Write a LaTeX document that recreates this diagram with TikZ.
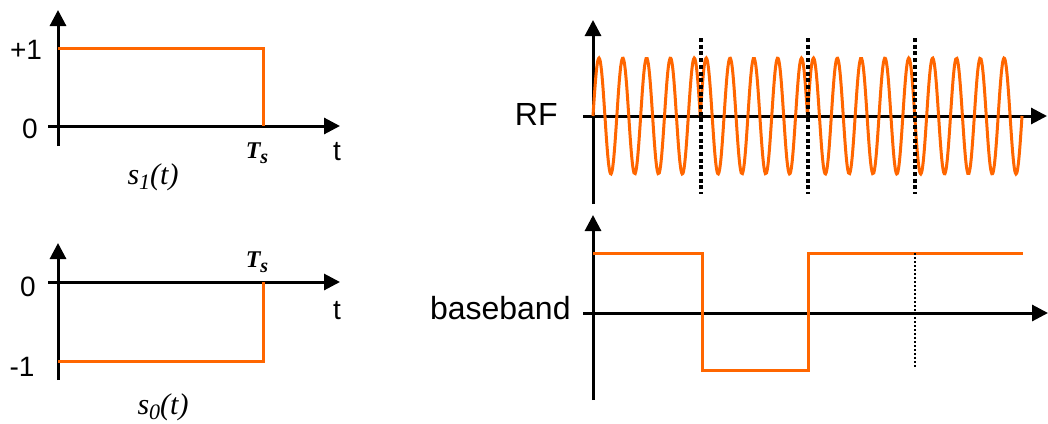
\documentclass[tikz,border=0pt]{standalone}
\usepackage{fontspec}
\setmainfont{Liberation Sans}
\newfontfamily\timesfont{Liberation Serif}
\usetikzlibrary{arrows.meta}
\definecolor{sigorange}{RGB}{255,102,0}
\newcommand{\Tsym}{{\fontsize{12}{14}\timesfont\bfseries\itshape T\raisebox{-0.45ex}{\fontsize{10}{12}\selectfont s}}}
\newcommand{\ssym}[1]{s\raisebox{-0.35ex}{\fontsize{11}{13}\selectfont #1}(t)}
\begin{document}
\begin{tikzpicture}[
    x=0.5pt,
    y=-0.5pt,
    font=\fontsize{14}{17}\selectfont,
    axis/.style={line width=1.5pt, -{Triangle[length=8pt,width=8pt]}},
    signal/.style={sigorange, line width=1.5pt},
    bitmark/.style={line width=2.2pt, dash pattern=on 2pt off 1.35pt},
    thinmark/.style={line width=1.1pt, dash pattern=on 1pt off 1pt},
    biglabel/.style={anchor=east, inner sep=0pt, font=\fontsize{16}{19}\selectfont},
    symname/.style={font=\fontsize{15}{18}\timesfont\itshape}
  ]
    \useasboundingbox (0,0) rectangle (1048,423);

    % --- s_1(t) ---
    \draw[axis] (58,146) -- (58,10);
    \draw[axis] (48,126) -- (340,126);
    \draw[signal] (58,48) -- (263,48) -- (263,126);
    \node (plusone) at (26,50) {+1};
    \node (zeroA) at (30,129) {0};
    \node (tsA) at (257,153) {\Tsym};
    \node (tA) at (337,152) {t};
    \node[symname] (sone) at (153,177) {\ssym{1}};

    % --- s_0(t) ---
    \draw[axis] (58,380) -- (58,243);
    \draw[axis] (48,282) -- (340,282);
    \draw[signal] (58,361) -- (263,361) -- (263,282);
    \node (zeroB) at (28,287) {0};
    \node (minusone) at (22,367) {-1};
    \node (tsB) at (257,262) {\Tsym};
    \node (tB) at (337,311) {t};
    \node[symname] (szero) at (163,407) {\ssym{0}};

    % --- RF (bits 1, 0, 1, 1) ---
    \draw[axis] (593,204) -- (593,20);
    \draw[axis] (583,116) -- (1047,116);
    \foreach \k/\b [evaluate=\k as \xa using 593+107.25*\k,
                    evaluate=\k as \xb using 593+107.25*(\k+1)]
      in {0/1,1/-1,2/1,3/1} {
      \draw[signal, domain=\xa:\xb, samples=90, smooth]
        plot (\x, {116-58*\b*sin(((\x-593)/23.8333)*360)});
    }
    \foreach \xd in {701,808,915} {
      \draw[bitmark] (\xd,38) -- (\xd,194);
    }
    \node[biglabel] (rf) at (558,114) {RF};

    % --- baseband ---
    \draw[axis] (593,400) -- (593,215);
    \draw[axis] (583,313) -- (1048,313);
    \draw[signal] (593,253) -- (702,253) -- (702,370) -- (808,370)
      -- (808,253) -- (1023,253);
    \draw[thinmark] (915,253) -- (915,368);
    \node[biglabel] (bb) at (571,308) {baseband};
  \end{tikzpicture}
\end{document}
